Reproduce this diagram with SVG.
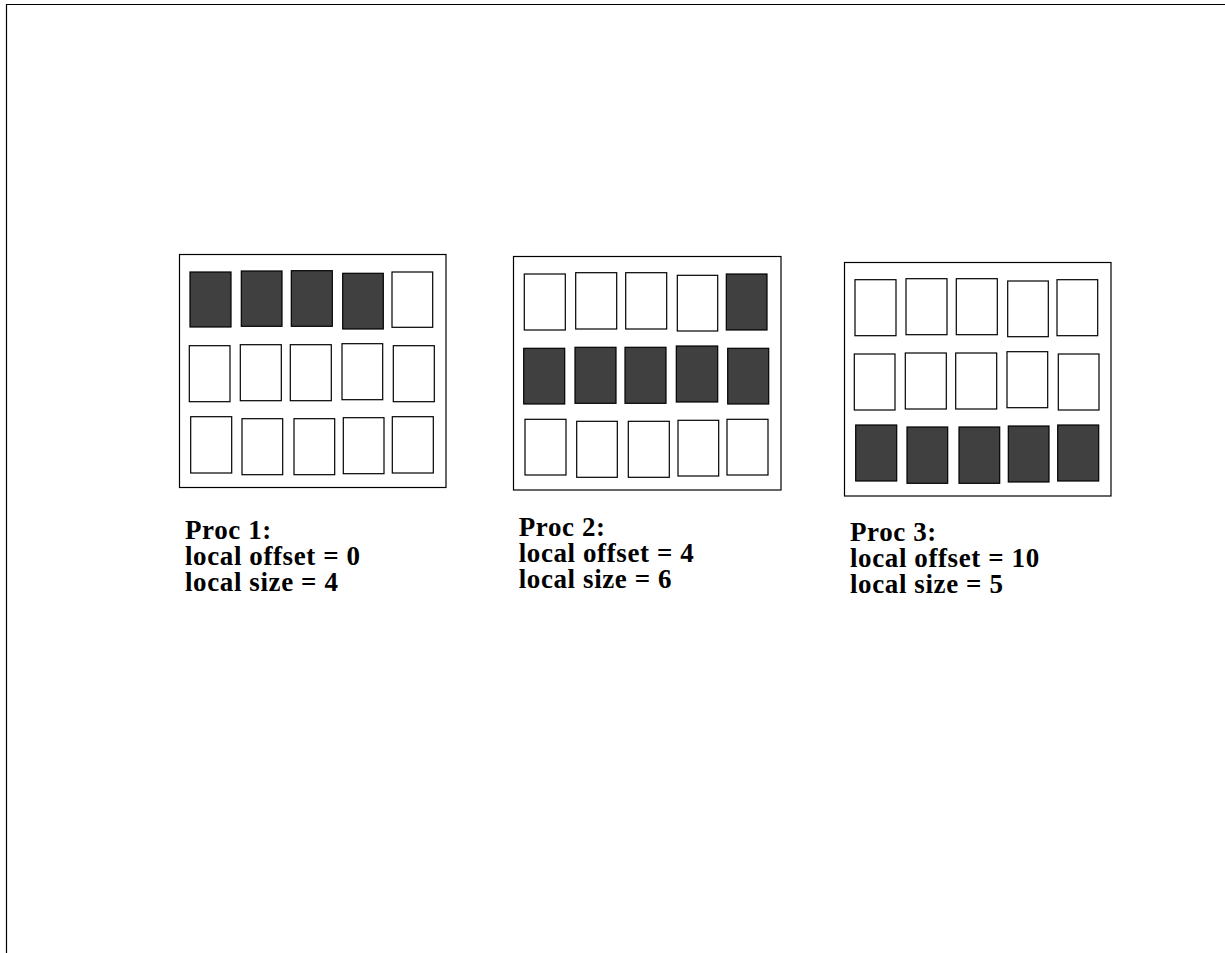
<svg xmlns="http://www.w3.org/2000/svg" width="1225" height="953" viewBox="0 0 1225 953">
<style>
.page{fill:none;stroke:#000;stroke-width:1.2}
.frame{fill:#fff;stroke:#000;stroke-width:1.2}
.c{fill:#fff;stroke:#000;stroke-width:1.2}
.d{fill:#404040;stroke:#000;stroke-width:1.2}
.t{font-family:"Liberation Serif","Times New Roman",serif;font-weight:bold;font-size:27px;letter-spacing:0.6px;fill:#000}
</style>
<rect width="1225" height="953" fill="#fff"/>
<g id="page-border">
<polyline class="page" points="6.5,953 6.5,4.5 1225,4.5"/>
</g>
<g id="proc1">
<rect class="frame" x="179.5" y="254.5" width="266.5" height="233"/>
<rect class="d" x="190" y="272" width="41" height="55"/>
<rect class="d" x="241.3" y="271" width="40.7" height="55.3"/>
<rect class="d" x="291.3" y="270.7" width="41" height="55.6"/>
<rect class="d" x="342.7" y="273.3" width="40.6" height="55.7"/>
<rect class="c" x="392" y="272" width="40.7" height="55.3"/>
<rect class="c" x="189.3" y="345.7" width="40.7" height="56"/>
<rect class="c" x="240.3" y="344.7" width="41" height="56"/>
<rect class="c" x="290.3" y="344.7" width="41" height="56"/>
<rect class="c" x="342" y="343.7" width="40.7" height="56"/>
<rect class="c" x="393.3" y="345.7" width="41" height="56"/>
<rect class="c" x="190.7" y="416.7" width="41" height="56.3"/>
<rect class="c" x="242" y="418.7" width="40.7" height="56"/>
<rect class="c" x="294" y="418.7" width="40.7" height="56"/>
<rect class="c" x="343.3" y="417.7" width="40.7" height="56"/>
<rect class="c" x="392.3" y="416.7" width="41" height="56.3"/>
<text class="t"><tspan x="185" y="539">Proc 1:</tspan><tspan x="185" y="565">local offset = 0</tspan><tspan x="185" y="591">local size = 4</tspan></text>
</g>
<g id="proc2">
<rect class="frame" x="513.5" y="256.5" width="267.5" height="233.5"/>
<rect class="c" x="524.3" y="274" width="41" height="56"/>
<rect class="c" x="575.7" y="272.7" width="41" height="56.3"/>
<rect class="c" x="625.7" y="272.7" width="41" height="56.3"/>
<rect class="c" x="677.3" y="275.3" width="40.4" height="55.7"/>
<rect class="d" x="726.3" y="274" width="40.7" height="56"/>
<rect class="d" x="523.7" y="348.3" width="41" height="55.7"/>
<rect class="d" x="575" y="347.3" width="41" height="56"/>
<rect class="d" x="625" y="347.3" width="41" height="56"/>
<rect class="d" x="676.3" y="346" width="41.4" height="56"/>
<rect class="d" x="727.7" y="348.3" width="41" height="55.7"/>
<rect class="c" x="525" y="419.3" width="41" height="55.7"/>
<rect class="c" x="576.7" y="421.3" width="40.6" height="56"/>
<rect class="c" x="628.3" y="421.3" width="41" height="56"/>
<rect class="c" x="678" y="420.3" width="40.7" height="55.7"/>
<rect class="c" x="727" y="419.3" width="41" height="55.7"/>
<text class="t"><tspan x="518.7" y="536">Proc 2:</tspan><tspan x="518.7" y="562">local offset = 4</tspan><tspan x="518.7" y="588">local size = 6</tspan></text>
</g>
<g id="proc3">
<rect class="frame" x="844.5" y="262.5" width="266.5" height="233.5"/>
<rect class="c" x="855" y="279.7" width="41" height="56"/>
<rect class="c" x="906" y="278.7" width="41" height="56"/>
<rect class="c" x="956.3" y="278.7" width="41" height="56"/>
<rect class="c" x="1007.7" y="281" width="40.6" height="55.7"/>
<rect class="c" x="1057" y="279.7" width="40.7" height="56"/>
<rect class="c" x="854.3" y="354" width="40.7" height="56"/>
<rect class="c" x="905.3" y="353" width="41" height="56"/>
<rect class="c" x="955.7" y="353" width="41" height="56"/>
<rect class="c" x="1007" y="351.7" width="40.7" height="56"/>
<rect class="c" x="1058.3" y="354" width="40.7" height="56"/>
<rect class="d" x="855.7" y="425" width="41" height="56"/>
<rect class="d" x="907" y="427" width="40.7" height="56.3"/>
<rect class="d" x="959" y="427" width="40.7" height="56.3"/>
<rect class="d" x="1008.3" y="426" width="40.7" height="56"/>
<rect class="d" x="1057.7" y="425" width="41" height="56"/>
<text class="t"><tspan x="850" y="541">Proc 3:</tspan><tspan x="850" y="567">local offset = 10</tspan><tspan x="850" y="593">local size = 5</tspan></text>
</g>
<g id="connectors"/>
</svg>
